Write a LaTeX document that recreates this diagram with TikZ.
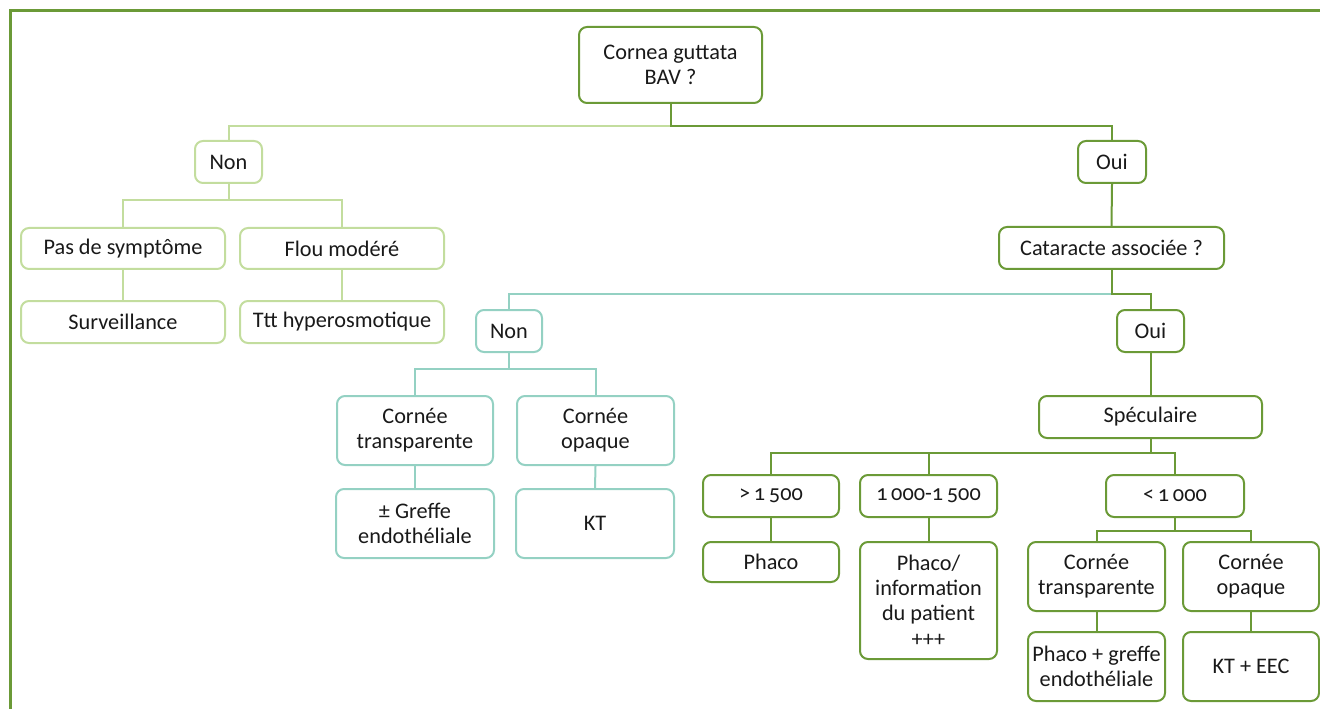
\documentclass[tikz,border=0pt]{standalone}
\usepackage{fontspec}
\setmainfont{Carlito}[Numbers=OldStyle]
\usetikzlibrary{calc}
\definecolor{dkgreen}{HTML}{6B9A37}
\definecolor{ltgreen}{HTML}{C3DD9E}
\definecolor{tealc}{HTML}{94D1C3}
\tikzset{
  box/.style={draw, rounded corners=6pt, line width=1.5pt, align=center,
    inner sep=0pt, text=black!90, font=\fontsize{16.7}{19}\selectfont},
  dkbox/.style={box, draw=dkgreen},
  ltbox/.style={box, draw=ltgreen},
  tlbox/.style={box, draw=tealc},
  dk/.style={draw=dkgreen, line width=1.5pt},
  lt/.style={draw=ltgreen, line width=1.5pt},
  tl/.style={draw=tealc, line width=1.5pt},
  sz/.style n args={2}{minimum width=#1*0.75pt, minimum height=#2*0.75pt}
}
\begin{document}
\begin{tikzpicture}[x=0.75pt, y=-0.75pt]
\useasboundingbox (0,0) rectangle (1320,709);
% outer frame (left and top sides)
\draw[dkgreen, line width=2.4pt] (10.5,709) -- (10.5,10.5) -- (1320,10.5);

% nodes
\node[dkbox, sz={183}{76}] (root) at (670.5,65) {Cornea guttata\\BAV ?};
\node[ltbox, sz={67}{42}] (non1) at (228.5,162) {Non};
\node[dkbox, sz={68}{42}] (oui1) at (1112,162) {Oui};
\node[ltbox, sz={204}{41}] (pas) at (123,248.5) {Pas de symptôme};
\node[ltbox, sz={204}{41}] (flou) at (342,248.5) {Flou modéré};
\node[ltbox, sz={204}{42}] (surv) at (123,322) {Surveillance};
\node[ltbox, sz={204}{42}] (ttt) at (342,322) {Ttt hyperosmotique};
\node[dkbox, sz={225}{42}] (cat) at (1111.5,248) {Cataracte associée ?};
\node[tlbox, sz={66}{42}] (non2) at (509,331) {Non};
\node[dkbox, sz={67}{42}] (oui2) at (1150.5,331) {Oui};
\node[tlbox, sz={156}{69}] (ct1) at (415,430.5) {Cornée\\transparente};
\node[tlbox, sz={157}{69}] (co1) at (595.5,430.5) {Cornée\\opaque};
\node[tlbox, sz={158}{69}] (gr) at (415,523.5) {± Greffe\\endothéliale};
\node[tlbox, sz={158}{69}] (kt) at (595,523.5) {KT};
\node[dkbox, sz={223}{42}] (spec) at (1150.5,417) {Spéculaire};
\node[dkbox, sz={136}{42}] (g1500) at (771,496) {>\,1\,500};
\node[dkbox, sz={137}{42}] (g1000) at (928.5,496) {1\,000-1\,500};
\node[dkbox, sz={138}{42}] (l1000) at (1175,496) {<\,1\,000};
\node[dkbox, sz={136}{40}] (phaco) at (771,562) {Phaco};
\node[dkbox, sz={137}{117}] (phinf) at (928.5,600.5) {Phaco/\\information\\du patient\\+++};
\node[dkbox, sz={137}{69}] (ct2) at (1096.5,576.5) {Cornée\\transparente};
\node[dkbox, sz={136}{69}] (co2) at (1251,576.5) {Cornée\\opaque};
\node[dkbox, sz={137}{69}] (pg) at (1096.5,666.5) {Phaco + greffe\\endothéliale};
\node[dkbox, sz={136}{69}] (kte) at (1251,666.5) {KT + EEC};

% root branches
\draw[lt] ($(root.south)+(0,22)$) -| (non1.north);
\draw[dk] (root.south) -- ++(0,22) -| (oui1.north);
% left branch
\draw[lt] (non1.south) -- ++(0,16) -| (pas.north);
\draw[lt] (non1.south) -- ++(0,16) -| (flou.north);
\draw[lt] (pas.south) -- (surv.north);
\draw[lt] (flou.south) -- (ttt.north);
% right branch
\draw[dk] (oui1.south) -- (cat.north);
\draw[tl] ($(cat.south)+(0,24)$) -| (non2.north);
\draw[dk] (cat.south) -- ++(0,24) -| (oui2.north);
\draw[tl] (non2.south) -- ++(0,16) -| (ct1.north);
\draw[tl] (non2.south) -- ++(0,16) -| (co1.north);
\draw[tl] (ct1.south) -- (gr.north);
\draw[tl] (co1.south) -- (kt.north);
\draw[dk] (oui2.south) -- (spec.north);
\draw[dk] (spec.south) -- ++(0,14) -| (g1500.north);
\draw[dk] (spec.south) -- ++(0,14) -| (g1000.north);
\draw[dk] (spec.south) -- ++(0,14) -| (l1000.north);
\draw[dk] (g1500.south) -- (phaco.north);
\draw[dk] (g1000.south) -- (phinf.north);
\draw[dk] (l1000.south) -- ++(0,13) -| (ct2.north);
\draw[dk] (l1000.south) -- ++(0,13) -| (co2.north);
\draw[dk] (ct2.south) -- (pg.north);
\draw[dk] (co2.south) -- (kte.north);
\end{tikzpicture}
\end{document}
